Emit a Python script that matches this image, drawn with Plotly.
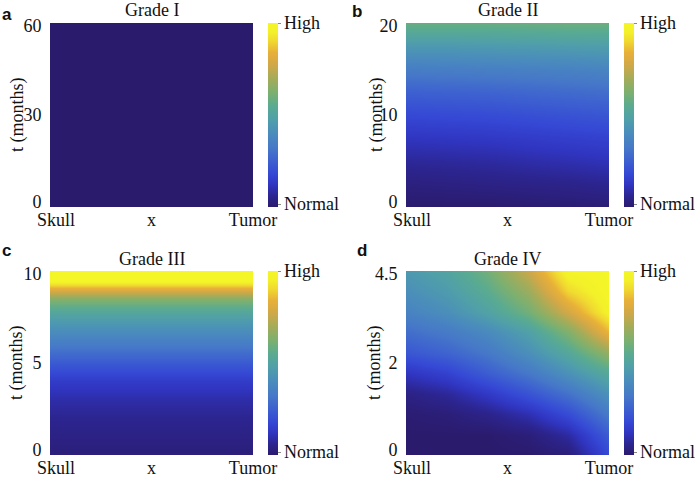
import plotly.graph_objects as go

W, H = 697, 478

# ---------------- data ----------------
x_pos = [0.0, 0.2, 0.4, 0.6, 0.8, 1.0]          # Skull -> Tumor (normalised)
x_tick_vals = [0.03, 0.5, 1.0]
x_tick_text = ["Skull", "x", "Tumor"]

titles = ["Grade I", "Grade II", "Grade III", "Grade IV"]
panel_letters = ["a", "b", "c", "d"]

t_grade1 = [0, 15, 30, 45, 60]
z_grade1 = [
    [0, 0, 0, 0, 0, 0],
    [0, 0, 0, 0, 0, 0],
    [0, 0, 0, 0, 0, 0],
    [0, 0, 0, 0, 0, 0],
    [0, 0, 0, 0, 0, 0],
]
y_ticks_grade1 = [0, 30, 60]
y_text_grade1 = ["0", "30", "60"]

t_grade2 = [0, 2.5, 5, 7.5, 10, 12.5, 15, 17.5, 20]
z_grade2 = [
    [0.00, 0.00, 0.00, 0.005, 0.01, 0.015],
    [0.03, 0.035, 0.04, 0.045, 0.05, 0.06],
    [0.07, 0.075, 0.08, 0.09, 0.10, 0.11],
    [0.12, 0.125, 0.13, 0.14, 0.15, 0.16],
    [0.18, 0.185, 0.19, 0.20, 0.21, 0.22],
    [0.25, 0.255, 0.26, 0.27, 0.28, 0.29],
    [0.34, 0.345, 0.35, 0.355, 0.36, 0.37],
    [0.45, 0.45, 0.455, 0.46, 0.465, 0.47],
    [0.58, 0.58, 0.58, 0.585, 0.59, 0.59],
]
y_ticks_grade2 = [0, 10, 20]
y_text_grade2 = ["0", "10", "20"]

t_grade3 = [0, 1, 2, 3, 4, 5, 6, 7, 7.5, 8, 8.5, 9, 9.5, 10]
row_grade3 = [0.02, 0.04, 0.06, 0.09, 0.14, 0.23, 0.33, 0.43, 0.48, 0.55, 0.64, 0.82, 1.0, 1.0]
z_grade3 = [[v] * len(x_pos) for v in row_grade3]
y_ticks_grade3 = [0, 5, 10]
y_text_grade3 = ["0", "5", "10"]

t_grade4 = [0, 0.5, 1.0, 1.5, 2.0, 2.5, 3.0, 3.5, 4.0, 4.5]
z_grade4 = [
    [0.00, 0.00, 0.00, 0.00, 0.02, 0.18],
    [0.00, 0.00, 0.00, 0.02, 0.08, 0.24],
    [0.01, 0.02, 0.05, 0.10, 0.19, 0.33],
    [0.04, 0.07, 0.13, 0.21, 0.30, 0.42],
    [0.12, 0.16, 0.24, 0.32, 0.42, 0.53],
    [0.22, 0.26, 0.32, 0.41, 0.52, 0.67],
    [0.29, 0.33, 0.39, 0.48, 0.63, 0.85],
    [0.36, 0.41, 0.49, 0.60, 0.78, 0.97],
    [0.41, 0.46, 0.55, 0.68, 0.90, 1.00],
    [0.45, 0.50, 0.60, 0.76, 0.98, 1.00],
]
y_ticks_grade4 = [0, 2.25, 4.5]
y_text_grade4 = ["0", "2", "4.5"]

cbar_vals = [0, 1]
cbar_text = ["Normal", "High"]

# parula-like colour scale as seen in the picture
colorscale = [
    [0.00, "#2b1b6d"],
    [0.06, "#2c2590"],
    [0.12, "#3035c0"],
    [0.18, "#3548d5"],
    [0.25, "#3d60d0"],
    [0.32, "#4678c8"],
    [0.40, "#4a8cbc"],
    [0.48, "#50a0a8"],
    [0.55, "#5aab90"],
    [0.62, "#7bb070"],
    [0.70, "#a5ac58"],
    [0.77, "#cfa848"],
    [0.84, "#e8b038"],
    [0.90, "#f0d830"],
    [0.95, "#f3f02a"],
    [1.00, "#f4f628"],
]

# ---------------- layout (pixels) ----------------
SERIF = "Liberation Serif"
SANS = "Liberation Sans"
BLACK = "#111111"
TOP_NUDGE, BOTTOM_NUDGE = 3, 5   # tick labels sit slightly inside the box ends

panels = [
    dict(x0=50, x1=253, y0=23, y1=207, cb=268, ytitle=17, t=t_grade1, z=z_grade1,
         yt=y_ticks_grade1, ytt=y_text_grade1, lab=(7, 14), tit=10),
    dict(x0=406, x1=609, y0=23, y1=207, cb=624, ytitle=376, t=t_grade2, z=z_grade2,
         yt=y_ticks_grade2, ytt=y_text_grade2, lab=(357, 12), tit=10),
    dict(x0=50, x1=253, y0=271, y1=455, cb=268, ytitle=16, t=t_grade3, z=z_grade3,
         yt=y_ticks_grade3, ytt=y_text_grade3, lab=(7, 250), tit=259),
    dict(x0=406, x1=609, y0=271, y1=455, cb=624, ytitle=374, t=t_grade4, z=z_grade4,
         yt=y_ticks_grade4, ytt=y_text_grade4, lab=(362, 250), tit=259),
]

def px(v):
    return v / W

def py(v):
    return 1 - v / H

fig = go.Figure()
annotations = []
for i, p in enumerate(panels):
    n = "" if i == 0 else str(i + 1)
    xa, ya = "x" + n, "y" + n
    ymax = p["t"][-1]
    hpx = p["y1"] - p["y0"]
    per_px = ymax / hpx
    ytv = list(p["yt"])
    ytv[0] = ytv[0] + BOTTOM_NUDGE * per_px
    ytv[-1] = ytv[-1] - TOP_NUDGE * per_px
    cbv = [cbar_vals[0] + 3.0 / hpx, cbar_vals[1]]
    fig.add_trace(go.Heatmap(
        x=x_pos, y=p["t"], z=p["z"], zmin=0, zmax=1,
        colorscale=colorscale, zsmooth="best",
        xaxis=xa, yaxis=ya, hoverinfo="skip",
        colorbar=dict(
            x=px(p["cb"]), xanchor="left", xpad=0, ypad=0,
            y=(py(p["y0"]) + py(p["y1"])) / 2, yanchor="middle",
            len=hpx / H, lenmode="fraction",
            thickness=10, thicknessmode="pixels", outlinewidth=0,
            tickvals=cbv, ticktext=cbar_text,
            ticks="outside", ticklen=3, tickcolor="#888888", tickwidth=1,
            tickfont=dict(family=SERIF, size=18, color=BLACK),
        ),
    ))
    fig.update_layout(**{
        "xaxis" + n: dict(domain=[px(p["x0"]), px(p["x1"])], anchor=ya, range=[0, 1],
                          tickvals=x_tick_vals, ticktext=x_tick_text, ticks="",
                          showgrid=False, zeroline=False, showline=False, automargin=False,
                          tickfont=dict(family=SERIF, size=18, color=BLACK)),
        "yaxis" + n: dict(domain=[py(p["y1"]), py(p["y0"])], anchor=xa, range=[0, ymax],
                          tickvals=ytv, ticktext=p["ytt"],
                          ticks="outside", ticklen=4, tickcolor="rgba(0,0,0,0)",
                          showgrid=False, zeroline=False, showline=False, automargin=False,
                          tickfont=dict(family=SERIF, size=18, color=BLACK)),
    })
    annotations.append(dict(text=titles[i], x=px((p["x0"] + p["x1"]) / 2), y=py(p["tit"]),
                            xref="paper", yref="paper", xanchor="center", yanchor="middle",
                            showarrow=False, font=dict(family=SERIF, size=18, color=BLACK)))
    annotations.append(dict(text="t (months)", x=px(p["ytitle"]), y=py((p["y0"] + p["y1"]) / 2),
                            xref="paper", yref="paper", xanchor="center", yanchor="middle",
                            textangle=-90, showarrow=False,
                            font=dict(family=SERIF, size=18, color=BLACK)))
    annotations.append(dict(text="<b>" + panel_letters[i] + "</b>", x=px(p["lab"][0]), y=py(p["lab"][1]),
                            xref="paper", yref="paper", xanchor="center", yanchor="middle",
                            showarrow=False, font=dict(family=SANS, size=17, color=BLACK)))

fig.update_layout(
    template="none",
    width=W, height=H, margin=dict(l=0, r=0, t=0, b=0, autoexpand=False),
    paper_bgcolor="white", plot_bgcolor="white",
    annotations=annotations, showlegend=False,
)

fig.write_html("out.html", config={"displayModeBar": False},
               post_script="document.body.style.margin='0';")
